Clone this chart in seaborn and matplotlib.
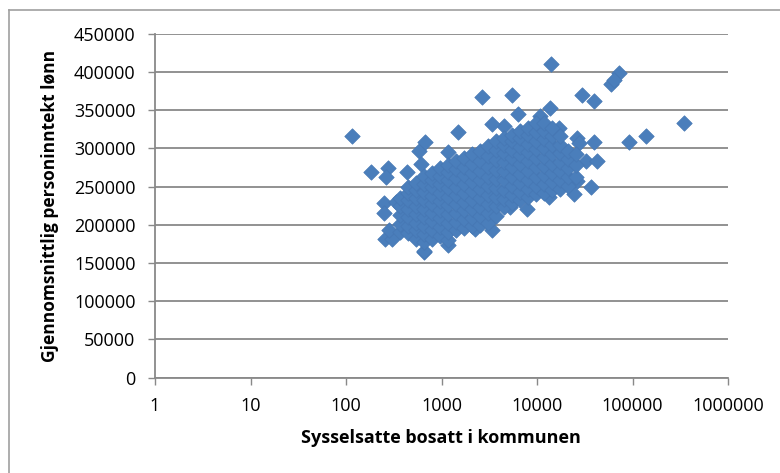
import matplotlib
matplotlib.use('Agg')
import matplotlib.pyplot as plt
import seaborn as sns
import pandas as pd
from matplotlib.lines import Line2D

# --- data (employed residents vs. average wage income) ---
# isolated points around the main cloud
outlier_x = [115, 183, 272, 262, 251, 251, 334, 256, 300, 283, 440, 581, 671, 611,
             656, 1183, 1183, 1472, 2687, 5530, 6400, 14000, 13700, 29900, 39500,
             59600, 72300, 64000, 346000, 140000, 92000, 39500, 32600, 43000, 37200,
             24400, 26500, 27400, 21400, 19200, 26500, 17000, 7770, 5210, 3420, 2243,
             13400, 4510, 3420, 10700]
outlier_y = [316000, 268700, 274000, 263000, 228000, 215000, 229500, 182000, 182000,
             192600, 268700, 297000, 308000, 280000, 164000, 173000, 295000, 321000,
             367000, 369600, 345000, 411000, 353000, 369600, 362000, 384000, 398000,
             389000, 332600, 316600, 308000, 308000, 284000, 284000, 250000, 240500,
             314000, 306500, 279600, 266600, 257900, 327000, 221000, 223000, 193600,
             195000, 236000, 329600, 331800, 342600]

# dense cloud, one column of values per employment level
core_x = [367, 446, 541, 656, 796, 965, 1170, 1419, 1722, 2085, 2530, 3069, 3723,
          4510, 5470, 6637, 8050, 9770, 11840, 14360, 17420, 21130, 25600]
core_y = [
    [190000, 201000, 213000, 224000, 235000],
    [189000, 199000, 210000, 221000, 232000, 242000, 249000],
    [182000, 193000, 203000, 214000, 224000, 235000, 245000, 255000],
    [166000, 177000, 188000, 199000, 210000, 221000, 232000, 243000, 254000, 264000],
    [182000, 193000, 205000, 216000, 227000, 238000, 249000, 259000, 268000],
    [186000, 197000, 209000, 220000, 231000, 242000, 253000, 264000, 274000],
    [180000, 191000, 203000, 214000, 226000, 237000, 248000, 259000, 269000, 278000],
    [193000, 204000, 216000, 227000, 239000, 250000, 261000, 273000, 284000],
    [196000, 207000, 219000, 230000, 242000, 253000, 265000, 276000, 287000],
    [198000, 209000, 221000, 232000, 244000, 256000, 268000, 280000, 292000],
    [200000, 211000, 223000, 235000, 247000, 259000, 271000, 284000, 297000],
    [203000, 215000, 227000, 239000, 251000, 263000, 276000, 290000, 303000],
    [212000, 224000, 236000, 248000, 260000, 272000, 285000, 298000, 310000],
    [223000, 234000, 246000, 258000, 270000, 282000, 294000, 305000, 314000],
    [228000, 239000, 251000, 263000, 275000, 287000, 298000, 309000, 318000],
    [232000, 243000, 255000, 267000, 279000, 291000, 302000, 313000, 323000],
    [236000, 247000, 259000, 271000, 283000, 295000, 306000, 317000, 327000],
    [240000, 251000, 263000, 275000, 287000, 299000, 310000, 322000, 333000],
    [242000, 253000, 265000, 277000, 289000, 301000, 312000, 323000, 333000],
    [245000, 256000, 268000, 280000, 292000, 304000, 316000, 327000],
    [247000, 258000, 270000, 282000, 294000, 305000, 316000],
    [251000, 262000, 274000, 286000, 296000],
    [262000, 278000, 292000],
]

y_ticks = [0, 50000, 100000, 150000, 200000, 250000, 300000, 350000, 400000, 450000]
x_ticks = [1, 10, 100, 1000, 10000, 100000, 1000000]

rows = [(x, y) for x, y in zip(outlier_x, outlier_y)]
for x, ys in zip(core_x, core_y):
    rows += [(x, y) for y in ys]
df = pd.DataFrame(rows, columns=['sysselsatte', 'lonn'])

plt.rcParams['font.family'] = ['Open Sans', 'DejaVu Sans']
GRID = '#898989'
BLUE = '#4a7ebb'

fig = plt.figure(figsize=(7.8, 4.73), dpi=100)
ax = fig.add_axes([155 / 780, 1 - 377.7 / 473, 573 / 780, 344 / 473])

sns.scatterplot(data=df, x='sysselsatte', y='lonn', marker='D', s=62,
                color=BLUE, edgecolor='#4677b4', linewidth=0.5, ax=ax, zorder=3)

ax.set_xscale('log')
ax.set_xlim(1, 1000000)
ax.set_ylim(0, 450000)
ax.set_xticks(x_ticks)
ax.set_xticklabels([str(t) for t in x_ticks])
ax.xaxis.set_minor_locator(matplotlib.ticker.NullLocator())
ax.set_yticks(y_ticks)
ax.set_yticklabels([str(t) for t in y_ticks])
ax.yaxis.grid(True, color=GRID, lw=1.3)
ax.set_axisbelow(True)
ax.tick_params(axis='both', labelsize=13, length=5, width=1, color=GRID, pad=9)
for s in ['top', 'right']:
    ax.spines[s].set_visible(False)
for s in ['left', 'bottom']:
    ax.spines[s].set_color(GRID)
    ax.spines[s].set_linewidth(1.3)
ax.set_xlabel('')
ax.set_ylabel('')

fig.text(441 / 780, 1 - 438 / 473, 'Sysselsatte bosatt i kommunen',
         ha='center', va='center', fontsize=13, fontweight='bold')
fig.text(50 / 780, 1 - 206 / 473, 'Gjennomsnittlig personinntekt lønn',
         ha='center', va='center', rotation=90, fontsize=12.5, fontweight='bold')

# chart-area border (left and top edges visible in the reference)
fig.add_artist(Line2D([9 / 780, 9 / 780], [0, 1 - 10 / 473], color='#a0a0a0', lw=1.2))
fig.add_artist(Line2D([9 / 780, 1], [1 - 10 / 473, 1 - 10 / 473], color='#a0a0a0', lw=1.2))

fig.savefig('out.png', dpi=100)
